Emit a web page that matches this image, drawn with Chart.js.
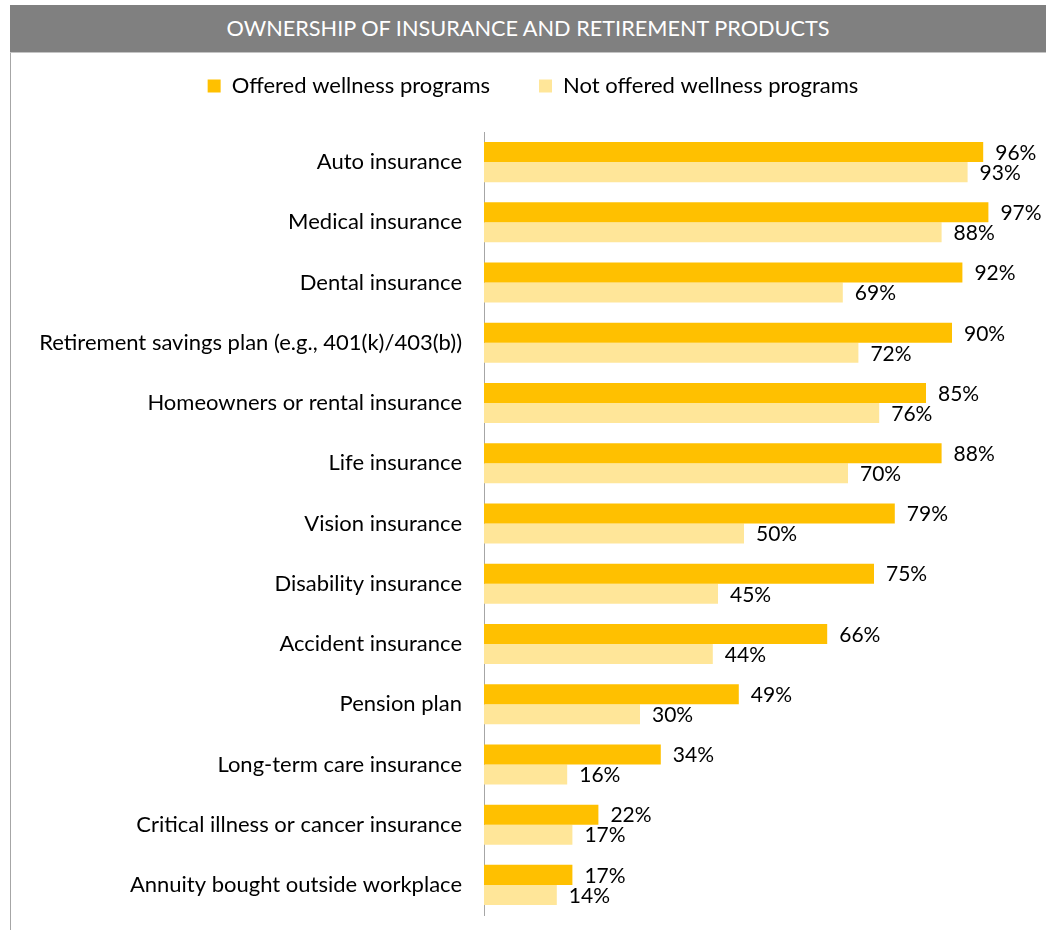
<!DOCTYPE html>
<html>
<head>
<meta charset="utf-8">
<title>Ownership of insurance and retirement products</title>
<script src="https://cdn.jsdelivr.net/npm/chart.js@4.4.1/dist/chart.umd.min.js"></script>
<style>
    body { margin: 0; background: #fff; }
    #frame { position: relative; width: 1046px; height: 930px; overflow: hidden; }
    #titleBar {
        position: absolute; left: 10px; top: 5px; width: 1036px; height: 47px;
        background: #808080; border-bottom: 1px solid #c4c4c4;
        color: #fff; font: 21.7px Lato, sans-serif; line-height: 47px; text-align: center;
        z-index: 2;
    }
    #leftRule { position: absolute; left: 10px; top: 5px; height: 925px; border-left: 1px solid #a6a6a6; z-index: 2; }
    #chartBox { position: absolute; left: 0; top: 0; width: 1046px; height: 930px; }
</style>
</head>
<body>
<div id="frame">
    <div id="leftRule"></div>
    <div id="titleBar">OWNERSHIP OF INSURANCE AND RETIREMENT PRODUCTS</div>
    <div id="chartBox"><canvas id="ownershipChart"></canvas></div>
</div>
<script>
const products = [
    'Auto insurance',
    'Medical insurance',
    'Dental insurance',
    'Retirement savings plan (e.g., 401(k)/403(b))',
    'Homeowners or rental insurance',
    'Life insurance',
    'Vision insurance',
    'Disability insurance',
    'Accident insurance',
    'Pension plan',
    'Long-term care insurance',
    'Critical illness or cancer insurance',
    'Annuity bought outside workplace'
];
const offeredWellness = [96, 97, 92, 90, 85, 88, 79, 75, 66, 49, 34, 22, 17];
const notOfferedWellness = [93, 88, 69, 72, 76, 70, 50, 45, 44, 30, 16, 17, 14];
const seriesNames = ['Offered wellness programs', 'Not offered wellness programs'];

let ownershipChart;

document.addEventListener('DOMContentLoaded', (event) => {
    const ctx = document.getElementById('ownershipChart').getContext('2d');
    const fontFamily = 'Lato, "Open Sans", sans-serif';

    // percentage text just past the end of every bar
    const valueLabels = {
        id: 'valueLabels',
        afterDatasetsDraw(chart) {
            const c = chart.ctx;
            c.save();
            c.font = '21px ' + fontFamily;
            c.fillStyle = '#000';
            c.textAlign = 'left';
            c.textBaseline = 'middle';
            chart.data.datasets.forEach((ds, i) => {
                chart.getDatasetMeta(i).data.forEach((bar, j) => {
                    c.fillText(ds.data[j] + '%', bar.x + 12, bar.y + 1);
                });
            });
            c.restore();
        }
    };

    // extra room under the legend, and centre it on the whole frame
    const legendGap = {
        id: 'legendGap',
        beforeInit(chart) {
            const fit = chart.legend.fit;
            chart.legend.fit = function () {
                fit.bind(chart.legend)();
                this.height += 25;
            };
        },
        afterLayout(chart) {
            chart.legend.left += 62;
        }
    };

    ownershipChart = new Chart(ctx, {
        type: 'bar',
        data: {
            labels: products,
            datasets: [{
                label: seriesNames[0],
                data: offeredWellness,
                backgroundColor: '#FFC000',
                categoryPercentage: 0.665,
                barPercentage: 1
            }, {
                label: seriesNames[1],
                data: notOfferedWellness,
                backgroundColor: '#FFE699',
                categoryPercentage: 0.665,
                barPercentage: 1
            }]
        },
        options: {
            indexAxis: 'y',
            responsive: true,
            maintainAspectRatio: false,
            animation: false,
            layout: {
                padding: { top: 26, right: 42, bottom: 15, left: 0 }
            },
            scales: {
                x: {
                    display: false,
                    min: 0,
                    max: 100
                },
                y: {
                    grid: { display: false, drawTicks: false },
                    border: { display: true, color: '#a6a6a6', width: 1 },
                    ticks: {
                        color: '#000',
                        padding: 22,
                        font: { family: fontFamily, size: 22 }
                    },
                    afterFit(scale) {
                        scale.width = 484;
                        scale.paddingTop = 0;
                        scale.paddingBottom = 0;
                    }
                }
            },
            plugins: {
                legend: {
                    position: 'top',
                    labels: {
                        color: '#000',
                        boxWidth: 13,
                        boxHeight: 13,
                        padding: 49,
                        font: { family: fontFamily, size: 22 }
                    }
                },
                tooltip: { enabled: false }
            }
        },
        plugins: [valueLabels, legendGap]
    });
});
</script>
</body>
</html>
